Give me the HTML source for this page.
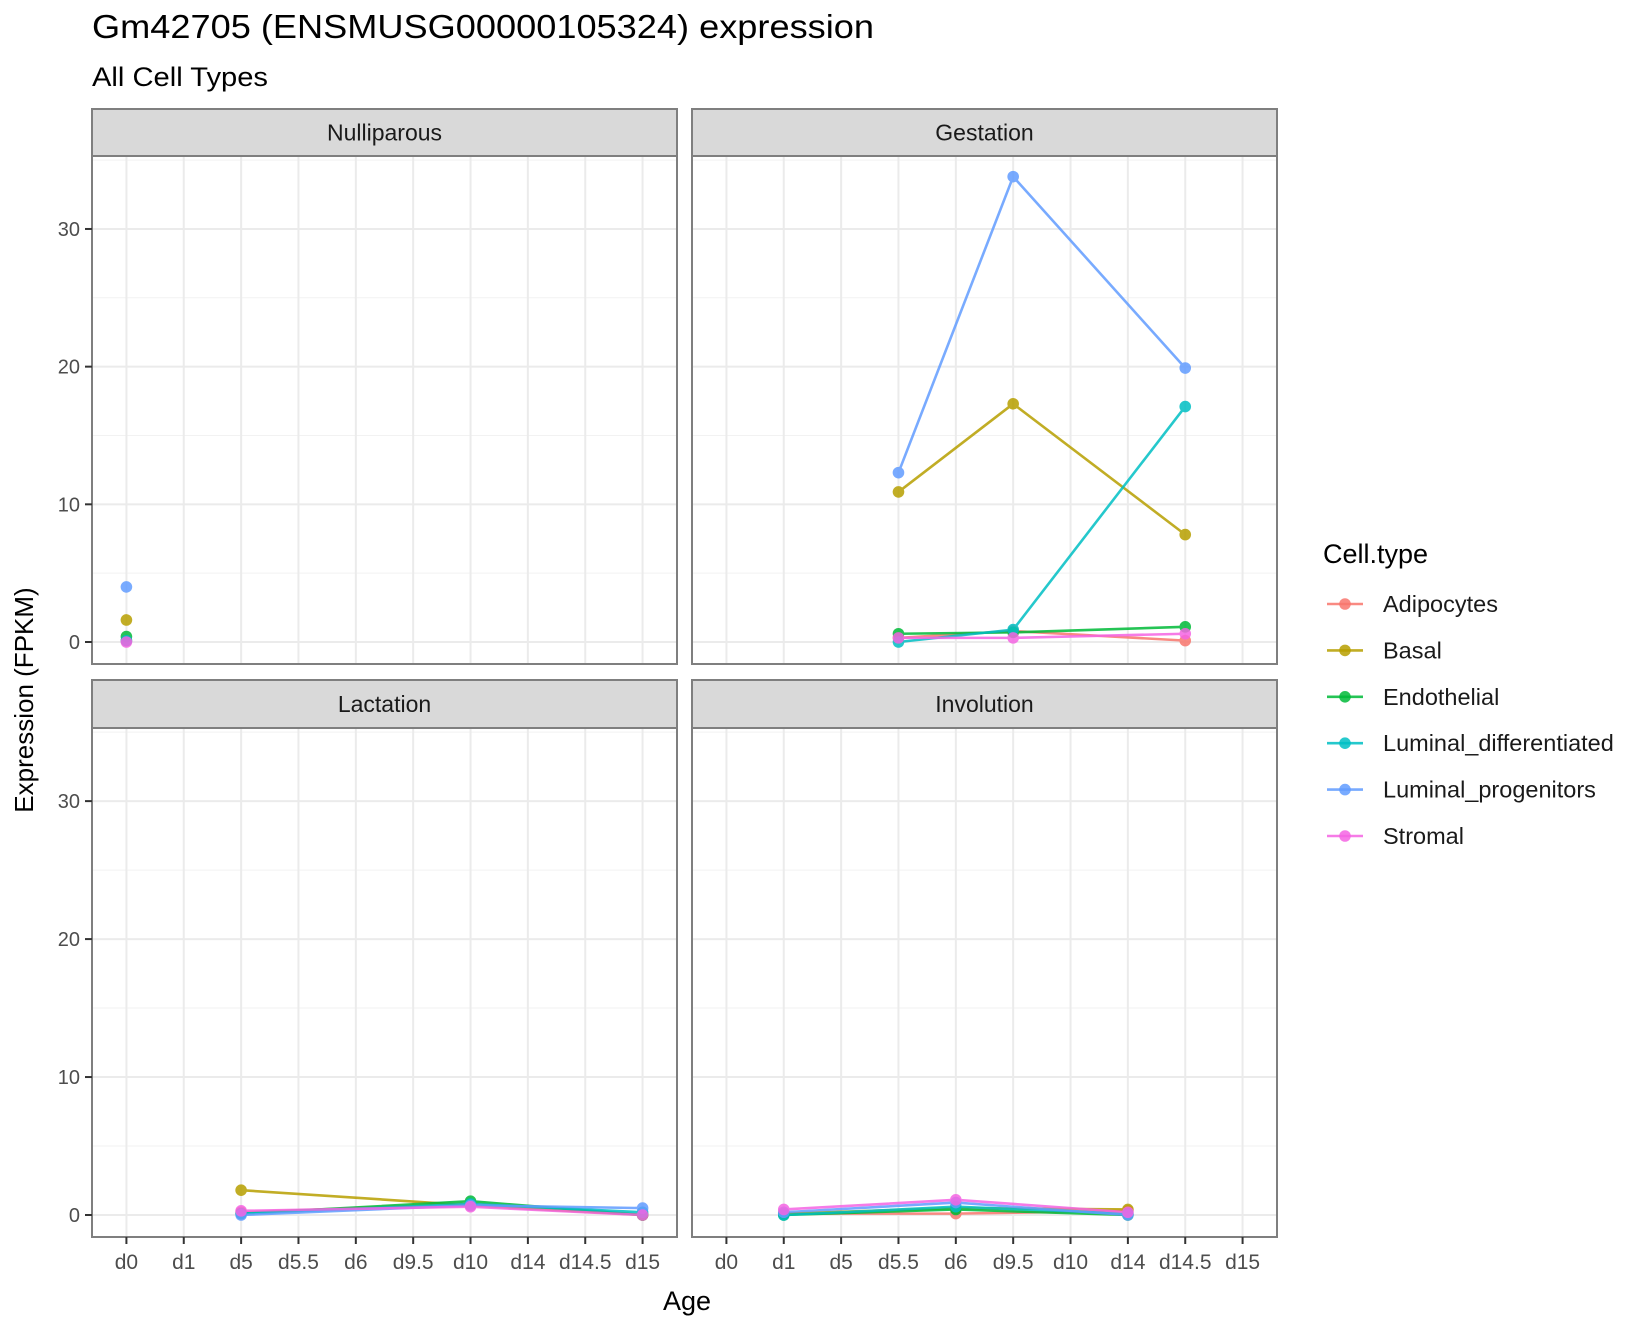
<!DOCTYPE html>
<html><head><meta charset="utf-8"><style>
html,body{margin:0;padding:0;background:#fff;}
svg{display:block;font-family:"Liberation Sans",sans-serif;}
</style></head><body>
<svg id="chart" width="1644" height="1318" viewBox="0 0 1644 1318" xmlns="http://www.w3.org/2000/svg">
<text x="92" y="38" font-size="33" fill="#000" textLength="782" lengthAdjust="spacingAndGlyphs">Gm42705 (ENSMUSG00000105324) expression</text>
<text x="92" y="86" font-size="27" fill="#000" textLength="176" lengthAdjust="spacingAndGlyphs">All Cell Types</text>
<text transform="translate(33,700) rotate(-90)" text-anchor="middle" font-size="26" fill="#000">Expression (FPKM)</text>
<text x="687" y="1310" text-anchor="middle" font-size="27" fill="#000">Age</text>
<g id="panels"></g>
<g id="legend"></g>
</svg>
<script>
const categories = ["d0","d1","d5","d5.5","d6","d9.5","d10","d14","d14.5","d15"];
const cellTypes = ["Adipocytes","Basal","Endothelial","Luminal_differentiated","Luminal_progenitors","Stromal"];
const colors = ["#F8766D","#B79F00","#00BA38","#00BFC4","#619CFF","#F564E3"];
const yTicks = [0,10,20,30];
const panelNames = ["Nulliparous","Gestation","Lactation","Involution"];
// x category index per panel
const nullX = [0];
const gestX = [3,5,8];
const lactX = [2,6,9];
const invoX = [1,4,7];
// values per cell type (order = cellTypes)
const nullVals = [[0.1],[1.6],[0.4],[0.1],[4.0],[0.0]];
const gestVals = [[0.3,0.8,0.1],[10.9,17.3,7.8],[0.6,0.7,1.1],[0.0,0.9,17.1],[12.3,33.8,19.9],[0.3,0.3,0.6]];
const lactVals = [[0.2,0.8,0.0],[1.8,0.7,0.0],[0.1,1.0,0.0],[0.1,0.8,0.2],[0.0,0.7,0.5],[0.3,0.6,0.0]];
const invoVals = [[0.1,0.1,0.3],[0.1,0.5,0.4],[0.0,0.4,0.0],[0.0,0.6,0.1],[0.2,0.9,0.0],[0.4,1.1,0.2]];

const NS="http://www.w3.org/2000/svg";
function mk(tag,attrs,parent){const e=document.createElementNS(NS,tag);for(const k in attrs)e.setAttribute(k,attrs[k]);parent.appendChild(e);return e;}
const panelsG=document.getElementById('panels');
const layout=[
 {x0:92,x1:677,sy0:109,sy1:156,py1:664,xs:nullX,vals:nullVals,showY:true,showX:false},
 {x0:692,x1:1277,sy0:109,sy1:156,py1:664,xs:gestX,vals:gestVals,showY:false,showX:false},
 {x0:92,x1:677,sy0:680,sy1:728,py1:1237,xs:lactX,vals:lactVals,showY:true,showX:true},
 {x0:692,x1:1277,sy0:680,sy1:728,py1:1237,xs:invoX,vals:invoVals,showY:false,showX:true}
];
const yMax=35.3;
layout.forEach((p,pi)=>{
  const g=mk('g',{},panelsG);
  
  
  const py0=p.sy1;
  const xScale=i=>p.x0+(i+0.6)*(p.x1-p.x0)/10.2;
  const ys=v=>(p.py1-22)-v*((p.py1-22-py0)/yMax);
  mk('rect',{x:p.x0,y:py0,width:p.x1-p.x0,height:p.py1-py0,fill:'#fff'},g);
  for(let v=5;v<yMax;v+=10){mk('line',{x1:p.x0,x2:p.x1,y1:ys(v),y2:ys(v),stroke:'#f2f2f2','stroke-width':1},g);}
  yTicks.forEach(v=>{mk('line',{x1:p.x0,x2:p.x1,y1:ys(v),y2:ys(v),stroke:'#ebebeb','stroke-width':2},g);});
  categories.forEach((c,i)=>{mk('line',{x1:xScale(i),x2:xScale(i),y1:py0,y2:p.py1,stroke:'#ebebeb','stroke-width':2},g);});
  p.vals.forEach((arr,si)=>{
    const s=mk('g',{opacity:0.85},g);
    
    
    if(arr.length>1){
      const pts=arr.map((v,k)=>xScale(p.xs[k])+','+ys(v)).join(' ');
      mk('polyline',{points:pts,fill:'none',stroke:colors[si],'stroke-width':2.6},s);
    }
    arr.forEach((v,k)=>{
      const c=mk('circle',{cx:xScale(p.xs[k]),cy:ys(v),r:5.8,fill:colors[si]},s);
      
      
    });
  });
  mk('rect',{x:p.x0,y:py0,width:p.x1-p.x0,height:p.py1-py0,fill:'none',stroke:'#7f7f7f','stroke-width':2},g);
  const st=mk('rect',{x:p.x0,y:p.sy0,width:p.x1-p.x0,height:p.sy1-p.sy0,fill:'#d9d9d9',stroke:'#7f7f7f','stroke-width':2},g);
  
  
  const stt=mk('text',{x:(p.x0+p.x1)/2,y:(p.sy0+p.sy1)/2+8,'text-anchor':'middle','font-size':23,fill:'#1a1a1a'},g);
  stt.textContent=panelNames[pi];
  
  
  if(p.showY){
    yTicks.forEach(v=>{
      mk('line',{x1:p.x0-7,x2:p.x0,y1:ys(v),y2:ys(v),stroke:'#333','stroke-width':2},g);
      const t=mk('text',{x:p.x0-12,y:ys(v)+7,'text-anchor':'end','font-size':20,fill:'#4d4d4d'},g);
      t.textContent=v;
      
      
    });
  }
  if(p.showX){
    categories.forEach((c,i)=>{
      mk('line',{x1:xScale(i),x2:xScale(i),y1:p.py1,y2:p.py1+7,stroke:'#333','stroke-width':2},g);
      const t=mk('text',{x:xScale(i),y:p.py1+32,'text-anchor':'middle','font-size':21,fill:'#4d4d4d'},g);
      t.textContent=c;
      
      
    });
  }
});
const lg=document.getElementById('legend');
const lt=mk('text',{x:1323,y:563,'font-size':27,fill:'#000'},lg);
lt.textContent='Cell.type';


cellTypes.forEach((name,i)=>{
  const y=604+i*46.4;
  const e=mk('g',{},lg);
  
  
  mk('line',{x1:1327,x2:1363,y1:y,y2:y,stroke:colors[i],'stroke-width':2.6,opacity:0.85},e);
  mk('circle',{cx:1345,cy:y,r:5.8,fill:colors[i],opacity:0.85},e);
  const t=mk('text',{x:1383,y:y+8,'font-size':23.5,fill:'#1a1a1a'},e);
  t.textContent=name;
});
</script>
</body></html>
